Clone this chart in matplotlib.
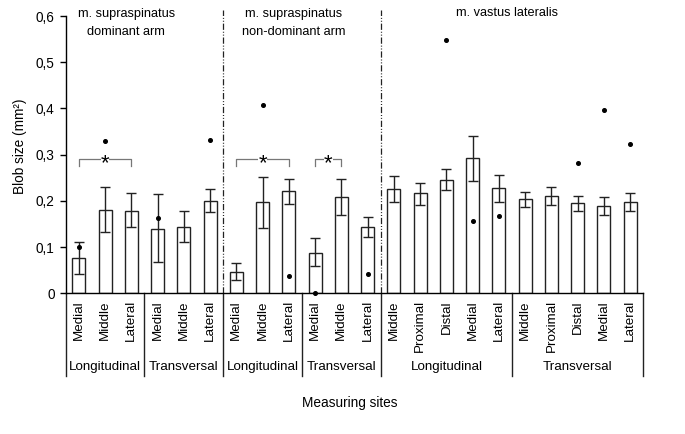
import matplotlib.pyplot as plt
import numpy as np

plt.rcParams['font.family'] = ['Liberation Sans', 'DejaVu Sans']

# bar means, error bar ends, single points (nan = none)
sites = ['Medial', 'Middle', 'Lateral', 'Medial', 'Middle', 'Lateral',
         'Medial', 'Middle', 'Lateral', 'Medial', 'Middle', 'Lateral',
         'Middle', 'Proximal', 'Distal', 'Medial', 'Lateral',
         'Middle', 'Proximal', 'Distal', 'Medial', 'Lateral']
means = [0.077, 0.181, 0.179, 0.140, 0.144, 0.200,
         0.046, 0.197, 0.221, 0.088, 0.209, 0.143,
         0.226, 0.216, 0.246, 0.293, 0.228,
         0.203, 0.211, 0.195, 0.188, 0.198]
err_hi = [0.112, 0.229, 0.216, 0.214, 0.178, 0.226,
          0.065, 0.252, 0.247, 0.120, 0.247, 0.165,
          0.254, 0.238, 0.270, 0.340, 0.256,
          0.219, 0.231, 0.211, 0.208, 0.217]
err_lo = [0.042, 0.133, 0.143, 0.067, 0.110, 0.175,
          0.028, 0.141, 0.193, 0.058, 0.170, 0.121,
          0.198, 0.192, 0.223, 0.244, 0.198,
          0.186, 0.190, 0.178, 0.169, 0.179]
points = [0.101, 0.330, np.nan, 0.162, np.nan, 0.332,
          np.nan, 0.408, 0.038, 0.0, np.nan, 0.041,
          np.nan, np.nan, 0.548, 0.157, 0.168,
          np.nan, np.nan, 0.282, 0.397, 0.322]

groups = ['Longitudinal', 'Transversal', 'Longitudinal', 'Transversal', 'Longitudinal', 'Transversal']
group_sizes = [3, 3, 3, 3, 5, 5]
muscles = ['m. supraspinatus\ndominant arm', 'm. supraspinatus\nnon-dominant arm', 'm. vastus lateralis']
muscle_sizes = [6, 6, 10]
brackets = [(0, 2), (6, 8), (9, 10)]

x = np.arange(len(means))
means = np.array(means)
yerr = [means - np.array(err_lo), np.array(err_hi) - means]

fig = plt.figure(figsize=(6.85, 4.34), dpi=100)
ax = fig.add_axes([0.0959, 0.3242, 0.8432, 0.6389])

ax.bar(x, means, width=0.5, color='white', edgecolor='#222222', linewidth=1.0)
ax.errorbar(x, means, yerr=yerr, fmt='none', ecolor='#222222', elinewidth=1.0,
            capsize=3.5, capthick=1.0)
ax.plot(x, points, 'o', color='black', markersize=2.6, clip_on=False, zorder=5)

ax.set_xlim(-0.5, len(means) - 0.5)
ax.set_ylim(0, 0.6)
ax.set_yticks(np.arange(0, 0.61, 0.1))
ax.set_yticklabels(['0', '0,1', '0,2', '0,3', '0,4', '0,5', '0,6'])
ax.tick_params(axis='y', direction='out', length=4, width=1, pad=4, labelsize=9.8)
ax.set_xticks(x)
ax.set_xticklabels(sites, rotation=90, fontsize=9.6)
ax.tick_params(axis='x', length=0, pad=5)
for s in ['top', 'right']:
    ax.spines[s].set_visible(False)
ax.spines['left'].set_linewidth(1.0)
ax.spines['bottom'].set_linewidth(1.0)

# group separators below the axis
edges = np.concatenate([[0], np.cumsum(group_sizes)]) - 0.5
for e in edges:
    ax.plot([e, e], [0, -0.297], color='#222222', lw=1.0,
            transform=ax.get_xaxis_transform(), clip_on=False)
starts = edges[:-1]
for s, n, g in zip(starts, group_sizes, groups):
    ax.text(s + n / 2, -0.266, g, transform=ax.get_xaxis_transform(),
            ha='center', va='center', fontsize=9.6)

# muscle separators and titles
m_edges = np.concatenate([[0], np.cumsum(muscle_sizes)]) - 0.5
for e in m_edges[1:-1]:
    ax.plot([e, e], [0, 0.613], color='#222222', lw=0.9,
            linestyle=(0, (5, 1.5, 0.8, 1.5, 0.8, 1.5)), clip_on=False)
title_x = [1.8, 8.18, 16.32]
for tx, t in zip(title_x, muscles):
    lines = t.split('\n')
    if len(lines) == 2:
        ax.text(tx, 0.604, lines[0], ha='center', va='center', fontsize=9.2)
        ax.text(tx, 0.565, lines[1], ha='center', va='center', fontsize=9.2)
    else:
        ax.text(tx, 0.607, lines[0], ha='center', va='center', fontsize=9.2)

# significance brackets
for a, b in brackets:
    ax.plot([a, a, b, b], [0.276, 0.291, 0.291, 0.276], color='#777777', lw=0.9)
    ax.text((a + b) / 2, 0.281, '*', ha='center', va='center', fontsize=16,
            color='black', bbox=dict(facecolor='white', edgecolor='none', pad=0.0))

ax.text(-0.079, 0.53, 'Blob size (mm²)', rotation=90, transform=ax.transAxes,
        ha='center', va='center', fontsize=9.8)
ax.text(0.492, -0.396, 'Measuring sites', transform=ax.transAxes,
        ha='center', va='center', fontsize=9.8)

plt.savefig('out.png', dpi=100)
